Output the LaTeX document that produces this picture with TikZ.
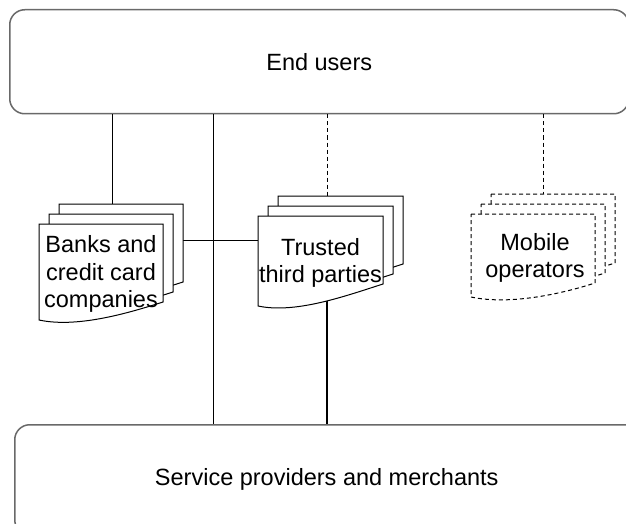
\documentclass[tikz,border=0pt]{standalone}
\usepackage{fontspec}
\setmainfont{Liberation Sans}
\definecolor{boxgray}{RGB}{105,105,105}
\newcommand\docpage[6][]{%
  \pgfmathsetmacro\dpXr{#2+#4}%
  \pgfmathsetmacro\dpYr{#3+#5}%
  \pgfmathsetmacro\dpYl{#3+#6}%
  \pgfmathsetmacro\dpCax{#2+0.7*#4}%
  \pgfmathsetmacro\dpCay{\dpYr+12}%
  \pgfmathsetmacro\dpCbx{#2+0.3*#4}%
  \pgfmathsetmacro\dpCby{\dpYl+8}%
  \draw[#1] (#2,#3) -- (\dpXr,#3) -- (\dpXr,\dpYr)
    .. controls (\dpCax,\dpCay) and (\dpCbx,\dpCby) .. (#2,\dpYl) -- cycle;
}
\tikzset{
  conn/.style={draw=black, line width=1pt},
  connd/.style={conn, dash pattern=on 4pt off 3pt},
  thickconn/.style={draw=black, line width=2pt},
  lbl/.style={font=\fontsize{23.5}{27.5}\selectfont, align=center, inner sep=0pt},
  bigbox/.style={draw=boxgray, line width=1.5pt, rounded corners=15pt, inner sep=0pt,
                 anchor=north west, font=\fontsize{23.5}{27.5}\selectfont},
  pg/.style={draw=none, inner sep=0pt, anchor=north west},
  pagepath/.style={draw=black, line width=1pt, fill=white},
  pagepathd/.style={pagepath, dash pattern=on 4pt off 3pt},
}
\begin{document}
\begin{tikzpicture}[x=1pt, y=-1pt]
\useasboundingbox (0,0) rectangle (626,524);
\fill[white] (0,0) rectangle (626,524);

% main boxes
\node[bigbox, minimum width=619pt, minimum height=104pt] (endusers) at (9,9) {End users};
\node[bigbox, minimum width=624pt, minimum height=110pt] (providers) at (14,424) {Service providers and merchants};

% page anchors
\node[pg, minimum width=124pt, minimum height=96pt] (banks1) at (39,224) {};
\node[pg, minimum width=124pt, minimum height=96pt] (banks2) at (49,214) {};
\node[pg, minimum width=124pt, minimum height=96pt] (banks3) at (59,204) {};
\node[pg, minimum width=125pt, minimum height=90pt] (trusted1) at (258,216) {};
\node[pg, minimum width=125pt, minimum height=90pt] (trusted2) at (268,206) {};
\node[pg, minimum width=125pt, minimum height=90pt] (trusted3) at (278,196) {};
\node[pg, minimum width=124pt, minimum height=83pt] (mobile1) at (471,214) {};
\node[pg, minimum width=124pt, minimum height=83pt] (mobile2) at (481,204) {};
\node[pg, minimum width=124pt, minimum height=83pt] (mobile3) at (491,194) {};
\coordinate (lnk) at (0,240);

% connectors (drawn below the pages)
\draw[conn] (endusers.south -| 112,0) -- (banks3.north -| 112,0);
\draw[conn] (endusers.south -| 213,0) -- (providers.north -| 213,0);
\draw[connd] (endusers.south -| 327,0) -- (trusted3.north -| 327,0);
\draw[connd] (endusers.south -| 543,0) -- (mobile3.north -| 543,0);
\draw[conn] (banks1.center |- lnk) -- (trusted1.center |- lnk);
\draw[thickconn] (trusted1.center -| 327,0) -- (providers.north -| 327,0);

% stacked documents
\docpage[pagepath]{59}{204}{124}{78}{96}
\docpage[pagepath]{49}{214}{124}{78}{96}
\docpage[pagepath]{39}{224}{124}{78}{96}
\docpage[pagepath]{278}{196}{125}{68}{90}
\docpage[pagepath]{268}{206}{125}{68}{90}
\docpage[pagepath]{258}{216}{125}{68}{90}
\docpage[pagepathd]{491}{194}{124}{69}{83}
\docpage[pagepathd]{481}{204}{124}{69}{83}
\docpage[pagepathd]{471}{214}{124}{69}{83}

% labels
\node[lbl] (banksT) at (101,274) {Banks and\\credit card\\companies};
\node[lbl] (trustedT) at (320.5,263) {Trusted\\third parties};
\node[lbl] (mobileT) at (535,258) {Mobile\\operators};
\end{tikzpicture}
\end{document}
